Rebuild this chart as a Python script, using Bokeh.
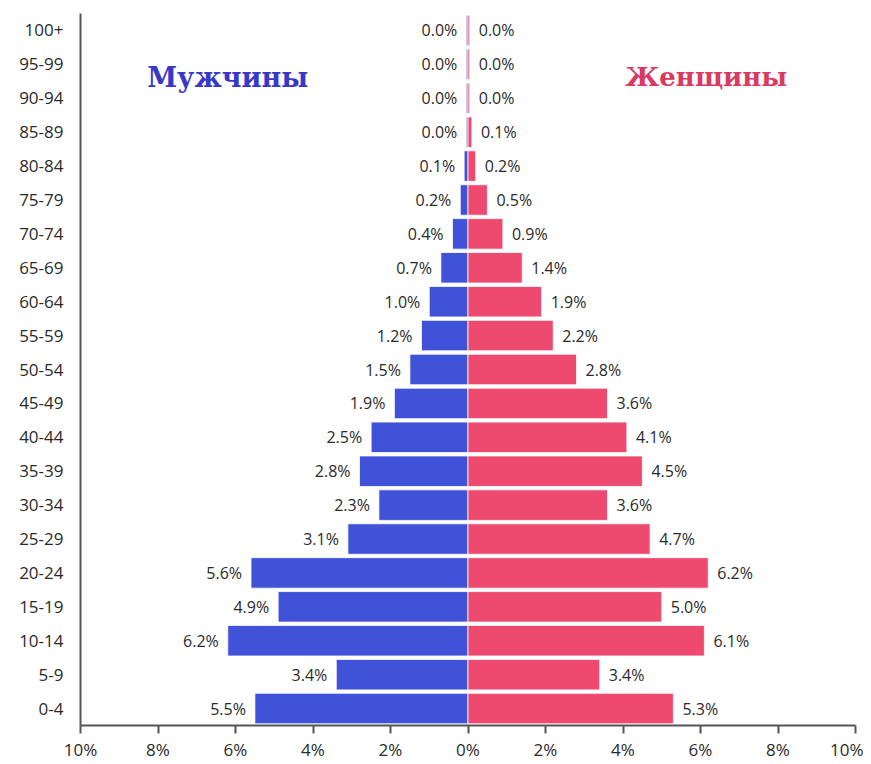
from bokeh.plotting import figure
from bokeh.models import ColumnDataSource, FixedTicker
from bokeh.core.properties import value
from bokeh.embed import file_html
from bokeh.resources import INLINE

ages = ["0-4", "5-9", "10-14", "15-19", "20-24", "25-29", "30-34", "35-39",
        "40-44", "45-49", "50-54", "55-59", "60-64", "65-69", "70-74",
        "75-79", "80-84", "85-89", "90-94", "95-99", "100+"]
male = [5.5, 3.4, 6.2, 4.9, 5.6, 3.1, 2.3, 2.8, 2.5, 1.9, 1.5, 1.2, 1.0,
        0.7, 0.4, 0.2, 0.1, 0.045, 0.045, 0.045, 0.045]
female = [5.3, 3.4, 6.1, 5.0, 6.2, 4.7, 3.6, 4.5, 4.1, 3.6, 2.8, 2.2, 1.9,
          1.4, 0.9, 0.5, 0.2, 0.1, 0.045, 0.045, 0.045]
tick_values = [-10, -8, -6, -4, -2, 0, 2, 4, 6, 8, 10]
tick_labels = ["10%", "8%", "6%", "4%", "2%", "0%", "2%", "4%", "6%", "8%", "10%"]
title_male = "Мужчины"
title_female = "Женщины"

BLUE = "#3f52d8"
RED = "#ee4a70"
FONT = "Open Sans"
TXT = "#2a2a2a"

src = ColumnDataSource(dict(
    age=ages,
    male_neg=[-v for v in male],
    female=female,
    male_lbl=[f"{v:.1f}%" for v in male],
    female_lbl=[f"{v:.1f}%" for v in female],
))

p = figure(width=863, height=763, y_range=ages, x_range=(-10, 10),
           output_backend="svg", toolbar_location=None,
           min_border_left=80, min_border_right=8, min_border_top=13,
           min_border_bottom=36)

p.hbar(y="age", left="male_neg", right=0, height=0.9, source=src,
       fill_color=BLUE, line_color="white", line_width=0.8)
p.hbar(y="age", left=0, right="female", height=0.9, source=src,
       fill_color=RED, line_color="white", line_width=0.8)

p.text(x="male_neg", y="age", text="male_lbl", source=src,
       text_align="right", text_baseline="middle", x_offset=-9,
       text_font=value(FONT), text_font_size="16px", text_color=TXT)
p.text(x="female", y="age", text="female_lbl", source=src,
       text_align="left", text_baseline="middle", x_offset=9,
       text_font=value(FONT), text_font_size="16px", text_color=TXT)

p.text(x=[-6.2], y=["95-99"], text=[title_male], y_offset=13,
       text_align="center", text_baseline="middle",
       text_font=value("DejaVu Serif"), text_font_style="bold",
       text_font_size="27px", text_color="#3838c8")
p.text(x=[6.15], y=["95-99"], text=[title_female], y_offset=13,
       text_align="center", text_baseline="middle",
       text_font=value("DejaVu Serif"), text_font_style="bold",
       text_font_size="26px", text_color="#d93a60")

p.grid.visible = False
p.outline_line_color = None
p.background_fill_color = "white"

p.xaxis.ticker = FixedTicker(ticks=tick_values)
p.xaxis.major_label_overrides = {v: l for v, l in zip(tick_values, tick_labels)}
p.xaxis.minor_tick_line_color = None
p.xaxis.major_tick_out = 8
p.xaxis.major_tick_in = 0
p.xaxis.axis_line_color = "#555555"
p.xaxis.axis_line_width = 2
p.xaxis.major_tick_line_color = "#555555"
p.xaxis.major_tick_line_width = 2
p.xaxis.major_label_text_font = FONT
p.xaxis.major_label_text_font_size = "17px"
p.xaxis.major_label_text_color = TXT
p.xaxis.major_label_standoff = 4

p.yaxis.major_tick_line_color = None
p.yaxis.minor_tick_line_color = None
p.yaxis.axis_line_color = "#555555"
p.yaxis.axis_line_width = 2
p.yaxis.major_label_text_font = FONT
p.yaxis.major_label_text_font_size = "17px"
p.yaxis.major_label_text_color = TXT
p.yaxis.major_label_standoff = 11

open("out.html", "w").write(file_html(p, INLINE))
